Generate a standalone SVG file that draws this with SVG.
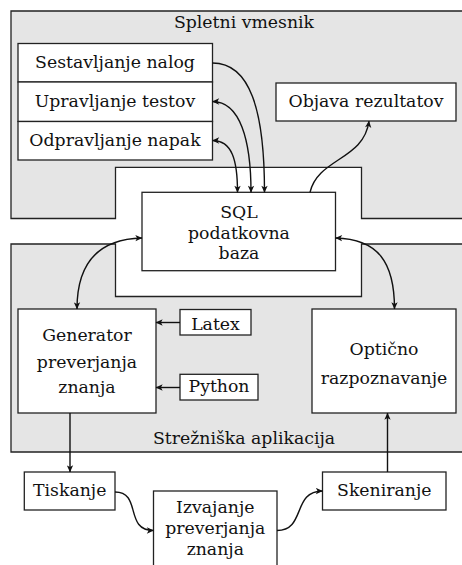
<svg xmlns="http://www.w3.org/2000/svg" width="462" height="565" viewBox="0 0 462 565">
<style>
.reg{fill:#e5e5e5;stroke:#222;stroke-width:1.3}
.box{fill:#fff;stroke:#222;stroke-width:1.3}
text{font-family:"DejaVu Serif",serif;font-size:17.3px;fill:#111;text-anchor:middle}
.c{fill:none;stroke:#111;stroke-width:1.4}
.e{marker-end:url(#ah)}
.b{marker-start:url(#ah);marker-end:url(#ah)}
</style>
<defs>
<marker id="ah" viewBox="0 0 10 10" refX="9.5" refY="5" markerUnits="userSpaceOnUse" markerWidth="8" markerHeight="7" orient="auto-start-reverse">
<path d="M0,0.5 L10,5 L0,9.5 L2.5,5 Z" fill="#111"/>
</marker>
</defs>
<g id="spletni-vmesnik">
<path class="reg" d="M11,11 L470,11 L470,218.5 L361.5,218.5 L361.5,167.3 L115.5,167.3 L115.5,218.5 L11,218.5 Z"/>
<text x="244" y="28.3">Spletni vmesnik</text>
</g>
<g id="streznika-aplikacija">
<path class="reg" d="M11,244 L115.5,244 L115.5,296.5 L361.5,296.5 L361.5,244 L470,244 L470,452 L11,452 Z"/>
<text x="244" y="444">Strežniška aplikacija</text>
</g>
<g id="sestavljanje">
<rect class="box" x="18" y="43.5" width="194.5" height="38.5"/>
<text x="115" y="68.3">Sestavljanje nalog</text>
</g>
<g id="upravljanje">
<rect class="box" x="18" y="82" width="194.5" height="39.5"/>
<text x="115" y="107.3">Upravljanje testov</text>
</g>
<g id="odpravljanje">
<rect class="box" x="18" y="121.5" width="194.5" height="38.5"/>
<text x="115" y="145.7">Odpravljanje napak</text>
</g>
<g id="objava">
<rect class="box" x="276" y="83" width="180" height="38"/>
<text x="366" y="107.3">Objava rezultatov</text>
</g>
<g id="sql">
<rect class="box" x="142" y="192.3" width="193.5" height="78.4"/>
<text x="239" y="218.3">SQL</text>
<text x="239" y="239">podatkovna</text>
<text x="239" y="259">baza</text>
</g>
<g id="generator">
<rect class="box" x="18" y="309" width="138" height="104"/>
<text x="87" y="340.7">Generator</text>
<text x="87" y="367.5">preverjanja</text>
<text x="87" y="393.3">znanja</text>
</g>
<g id="latex">
<rect class="box" x="180" y="309.5" width="71" height="25.5"/>
<text x="215.5" y="330">Latex</text>
</g>
<g id="python">
<rect class="box" x="180" y="374.3" width="78" height="25.7"/>
<text x="219" y="392.3">Python</text>
</g>
<g id="opticno">
<rect class="box" x="312" y="309" width="144" height="104"/>
<text x="384" y="355">Optično</text>
<text x="384" y="384.3">razpoznavanje</text>
</g>
<g id="tiskanje">
<rect class="box" x="24.3" y="472" width="90.7" height="38"/>
<text x="69.7" y="495.7">Tiskanje</text>
</g>
<g id="izvajanje">
<rect class="box" x="153.5" y="491" width="123.5" height="90"/>
<text x="215.3" y="513.3">Izvajanje</text>
<text x="215.3" y="534">preverjanja</text>
<text x="215.3" y="555">znanja</text>
</g>
<g id="skeniranje">
<rect class="box" x="322.5" y="472" width="123.5" height="38"/>
<text x="384.3" y="495.7">Skeniranje</text>
</g>
<g id="connectors">
<path class="c e" d="M212.5,63 C250,63 264.5,110 264.5,192.3"/>
<path class="c b" d="M212.5,101.5 C240,101.5 251,140 251,192.3"/>
<path class="c b" d="M212.5,140.5 C232,140.5 237.5,160 237.5,192.3"/>
<path class="c e" d="M310,192.3 C318,158 364,160 369,121"/>
<path class="c b" d="M142,238 C100,239 77,262 77,309"/>
<path class="c b" d="M335.5,238 C378,239 394.5,262 394.5,309"/>
<path class="c e" d="M180,322.5 L156,322.5"/>
<path class="c e" d="M180,387.5 L156,387.5"/>
<path class="c e" d="M70,413 L70,472"/>
<path class="c e" d="M115,492 C142,492 124,530.5 153.5,530.5"/>
<path class="c e" d="M277,530.5 C306,530.5 292,491 322.5,491"/>
<path class="c e" d="M387.5,472 L387.5,413"/>
</g>
</svg>
